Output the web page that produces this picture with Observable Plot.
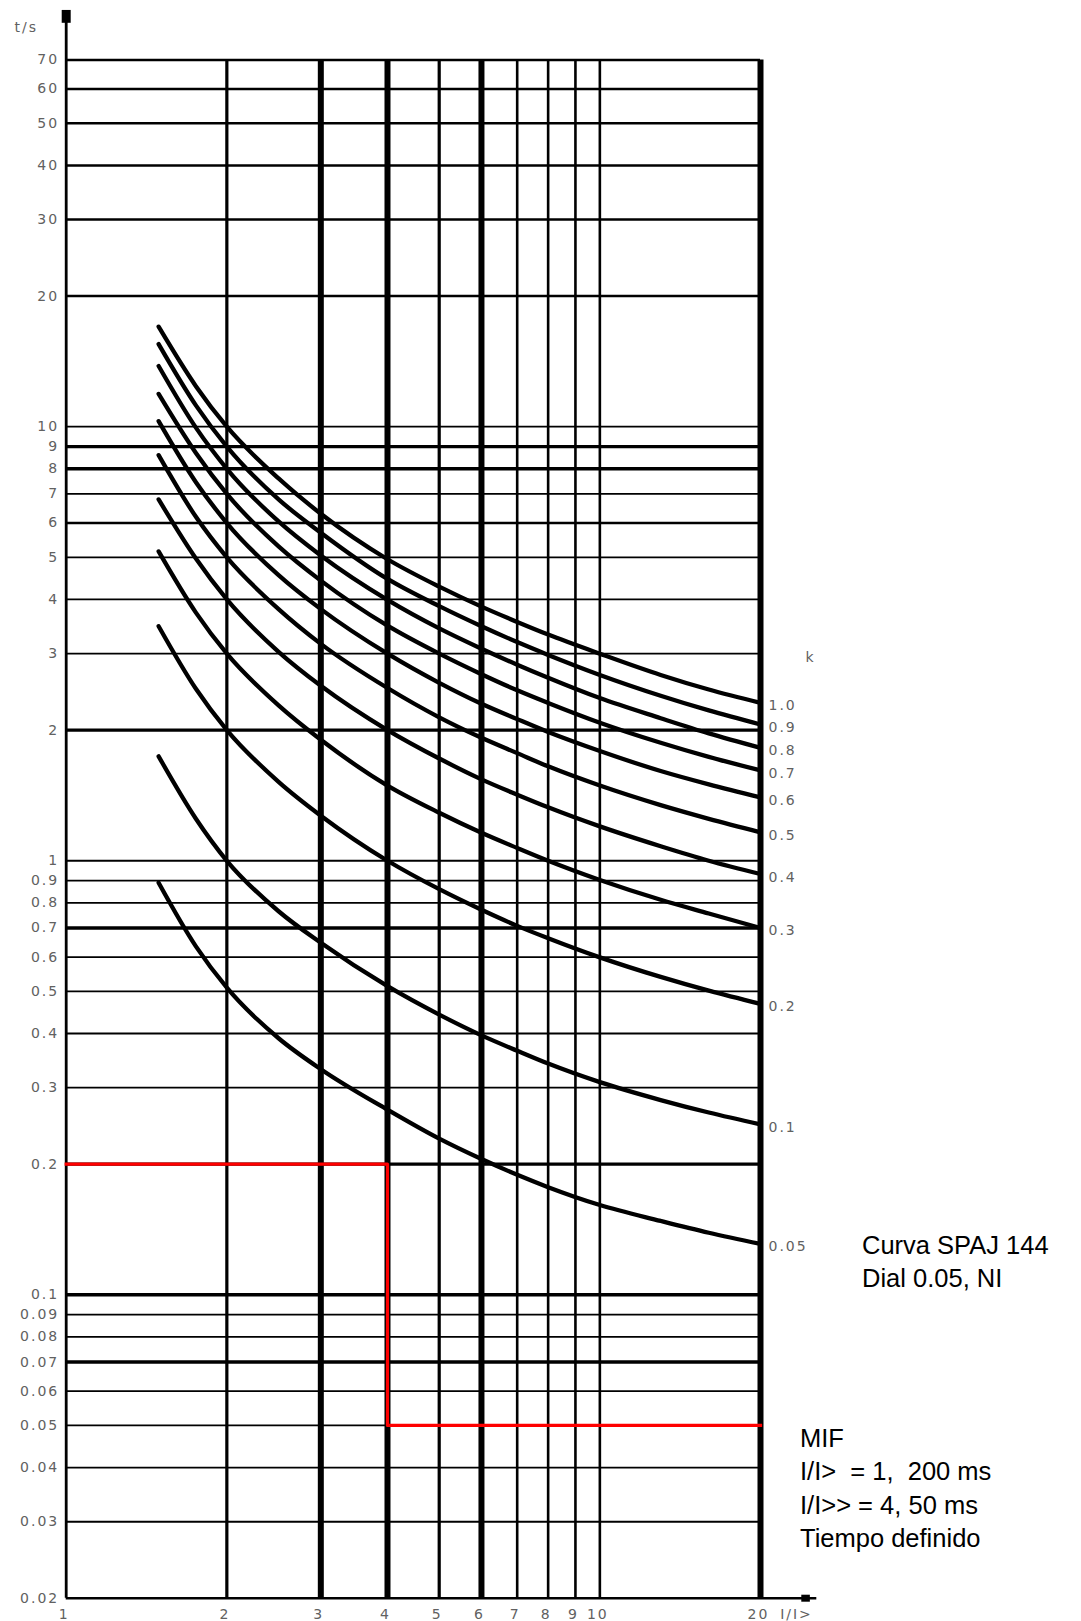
<!DOCTYPE html>
<html>
<head>
<meta charset="utf-8">
<script src="https://cdn.jsdelivr.net/npm/d3@7"></script>
<script src="https://cdn.jsdelivr.net/npm/@observablehq/plot@0.6"></script>
<style>
html, body { margin: 0; padding: 0; background: #fff; }
#wrap { position: relative; width: 1081px; height: 1621px; overflow: hidden; }
#chart svg text { letter-spacing: 2px; }
.note { position: absolute; font-family: "Liberation Sans", Arial, sans-serif; font-size: 25.5px; line-height: 33.4px; color: #000; white-space: pre; }
</style>
</head>
<body>
<div id="wrap">
  <div id="chart"></div>
  <div class="note" style="left:862px; top:1229px;">Curva SPAJ 144
Dial 0.05, NI</div>
  <div class="note" style="left:800px; top:1422px;">MIF
I/I&gt;  = 1,  200 ms
I/I&gt;&gt; = 4, 50 ms
Tiempo definido</div>
</div>
<script>
// ---- data ----
const currents = [1.49, 1.75, 2, 2.5, 3, 4, 5, 6, 7, 8, 10, 13, 16, 20]; // I/I>
const dials = ["1.0", "0.9", "0.8", "0.7", "0.6", "0.5", "0.4", "0.3", "0.2", "0.1", "0.05"];
const t_k100 = [17.0, 12.4, 10.0, 7.6, 6.3, 4.95, 4.28, 3.85, 3.55, 3.32, 3.0, 2.68, 2.48, 2.31];
const t_k090 = [15.5, 11.2, 9.0, 6.8, 5.7, 4.46, 3.86, 3.47, 3.19, 2.98, 2.68, 2.40, 2.22, 2.06];
const t_k080 = [13.8, 9.95, 8.0, 6.05, 5.05, 3.99, 3.43, 3.08, 2.83, 2.64, 2.37, 2.13, 1.965, 1.82];
const t_k070 = [11.9, 8.7, 7.0, 5.3, 4.42, 3.48, 3.0, 2.69, 2.47, 2.31, 2.08, 1.87, 1.735, 1.615];
const t_k060 = [10.3, 7.45, 6.0, 4.55, 3.8, 3.0, 2.57, 2.3, 2.12, 1.98, 1.79, 1.61, 1.50, 1.40];
const t_k050 = [8.6, 6.2, 5.0, 3.8, 3.16, 2.5, 2.14, 1.92, 1.77, 1.65, 1.49, 1.343, 1.249, 1.163];
const t_k040 = [6.8, 4.97, 4.0, 3.03, 2.53, 2.0, 1.72, 1.54, 1.42, 1.328, 1.20, 1.08, 1.0, 0.932];
const t_k030 = [5.16, 3.73, 3.0, 2.28, 1.9, 1.49, 1.29, 1.16, 1.07, 1.0, 0.903, 0.813, 0.756, 0.70];
const t_k020 = [3.47, 2.49, 2.0, 1.52, 1.27, 1.0, 0.86, 0.771, 0.708, 0.663, 0.599, 0.54, 0.502, 0.468];
const t_k010 = [1.74, 1.25, 1.0, 0.765, 0.647, 0.514, 0.442, 0.396, 0.365, 0.341, 0.309, 0.281, 0.263, 0.247];
const t_k005 = [0.89, 0.635, 0.51, 0.39, 0.331, 0.267, 0.229, 0.2055, 0.189, 0.177, 0.161, 0.148, 0.139, 0.131];
const curveSeries = [t_k100, t_k090, t_k080, t_k070, t_k060, t_k050, t_k040, t_k030, t_k020, t_k010, t_k005];

// MIF definite-time setting: I/I> = 1 -> 200 ms, I/I>> = 4 -> 50 ms
const mifI = [1, 4, 4, 20];
const mifT = [0.2, 0.2, 0.05, 0.05];

// axes and grid
const yTickValues = [70, 60, 50, 40, 30, 20, 10, 9, 8, 7, 6, 5, 4, 3, 2, 1, 0.9, 0.8, 0.7, 0.6, 0.5, 0.4, 0.3, 0.2, 0.1, 0.09, 0.08, 0.07, 0.06, 0.05, 0.04, 0.03, 0.02];
const yTickLabels = ["70", "60", "50", "40", "30", "20", "10", "9", "8", "7", "6", "5", "4", "3", "2", "1", "0.9", "0.8", "0.7", "0.6", "0.5", "0.4", "0.3", "0.2", "0.1", "0.09", "0.08", "0.07", "0.06", "0.05", "0.04", "0.03", "0.02"];
const xTickValues = [1, 2, 3, 4, 5, 6, 7, 8, 9, 10, 20];
const xTickLabels = ["1", "2", "3", "4", "5", "6", "7", "8", "9", "10", "20"];
const gridTHeavy = [9, 8, 2, 0.7, 0.2, 0.1, 0.07];
const gridTMedium = [70, 60, 50, 40, 30, 20, 6];
const gridTLight = [10, 7, 5, 4, 3, 1, 0.9, 0.8, 0.6, 0.5, 0.4, 0.3, 0.09, 0.08, 0.06, 0.05, 0.04, 0.03];
const gridIHeavy = [3, 4, 6, 20];
const gridIMedium = [2, 5];
const gridILight = [7, 8, 9, 10];

// ---- build table ----
const rows = [];
curveSeries.forEach((ts, j) => ts.forEach((t, i) => rows.push({k: dials[j], I: currents[i], t})));
const ends = curveSeries.map((ts, j) => ({k: dials[j], I: currents[currents.length - 1], t: ts[ts.length - 1]}));
const mif = mifI.map((I, i) => ({I, t: mifT[i]}));

const tMin = 0.02, tMax = 70, iMin = 1, iMax = 20;
const yAxisEnd = 91, yArrowStart = 85;
const xAxisEnd = 25.5, xArrowStart = 23.9, xArrowEnd = 24.8;

const labelFont = {fontFamily: "DejaVu Sans, sans-serif", fontSize: 14, fill: "#616161"};

const plot = Plot.plot({
  width: 1081,
  height: 1621,
  marginLeft: 65.7,
  marginRight: 321,
  marginTop: 59.4,
  marginBottom: 23.3,
  style: {background: "white", overflow: "visible"},
  x: {type: "log", domain: [iMin, iMax], axis: null},
  y: {type: "log", domain: [tMin, tMax], axis: null},
  marks: [
    // horizontal grid
    Plot.ruleY(gridTLight, {x1: iMin, x2: iMax, stroke: "black", strokeWidth: 1.8}),
    Plot.ruleY(gridTMedium, {x1: iMin, x2: iMax, stroke: "black", strokeWidth: 2.5}),
    Plot.ruleY(gridTHeavy, {x1: iMin, x2: iMax, stroke: "black", strokeWidth: 3.4}),
    // vertical grid
    Plot.ruleX(gridILight, {y1: tMin, y2: tMax, stroke: "black", strokeWidth: 2.6}),
    Plot.ruleX(gridIMedium, {y1: tMin, y2: tMax, stroke: "black", strokeWidth: 3.2}),
    Plot.ruleX(gridIHeavy, {y1: tMin, y2: tMax, stroke: "black", strokeWidth: 6}),
    // axes with arrow heads
    Plot.ruleX([iMin], {y1: tMin, y2: yAxisEnd, stroke: "black", strokeWidth: 2.8}),
    Plot.ruleX([iMin], {y1: yArrowStart, y2: yAxisEnd, stroke: "black", strokeWidth: 9}),
    Plot.ruleY([tMin], {x1: iMin, x2: xAxisEnd, stroke: "black", strokeWidth: 2.6}),
    Plot.ruleY([tMin], {x1: xArrowStart, x2: xArrowEnd, stroke: "black", strokeWidth: 7}),
    // time–current curves
    Plot.line(rows, {x: "I", y: "t", z: "k", stroke: "black", strokeWidth: 4.3, curve: "monotone-x"}),
    // MIF definite-time characteristic
    Plot.line(mif, {x: "I", y: "t", stroke: "#ff0000", strokeWidth: 3.2, strokeLinecap: "square"}),
    // tick labels
    Plot.text(yTickValues, {x: iMin, y: d => d, text: (d, i) => yTickLabels[i], textAnchor: "end", dx: -7, ...labelFont}),
    Plot.text(xTickValues, {x: d => d, y: tMin, text: (d, i) => xTickLabels[i], dx: -2, dy: 16, ...labelFont}),
    Plot.text(["t/s"], {x: iMin, y: yAxisEnd, text: d => d, dx: -40, dy: 17, ...labelFont}),
    Plot.text(["I/I>"], {x: iMax, y: tMin, text: d => d, dx: 36, dy: 16, ...labelFont}),
    // dial labels
    Plot.text(ends, {x: "I", y: "t", text: "k", textAnchor: "start", dx: 8, dy: 3, ...labelFont}),
    Plot.text(["k"], {x: iMax, y: t_k100[t_k100.length - 1] * 1.27, text: d => d, dx: 50, ...labelFont})
  ]
});
document.getElementById("chart").appendChild(plot);
</script>
</body>
</html>
